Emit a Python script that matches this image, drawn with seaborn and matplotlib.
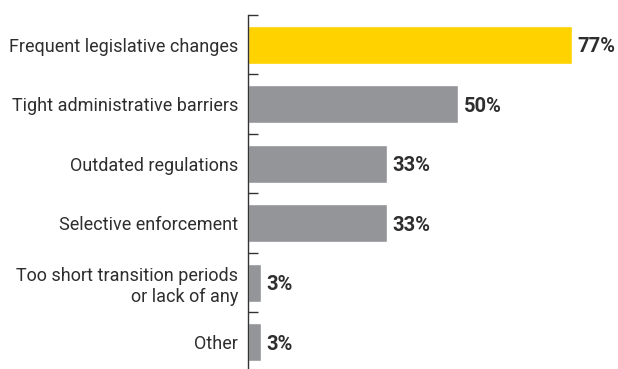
import matplotlib
matplotlib.use("Agg")
import matplotlib.pyplot as plt
import seaborn as sns
import pandas as pd

categories = ["Frequent legislative changes", "Tight administrative barriers",
              "Outdated regulations", "Selective enforcement",
              "Too short transition periods\nor lack of any", "Other"]
values = [77, 50, 33, 33, 3, 3]
value_labels = ["77%", "50%", "33%", "33%", "3%", "3%"]
colors = ["#FFD200", "#939598", "#939598", "#939598", "#939598", "#939598"]

sns.set_theme(style="white")
plt.rcParams['font.family'] = ['Roboto', 'DejaVu Sans']

df = pd.DataFrame({"cat": categories, "val": values})
fig = plt.figure(figsize=(6.18, 3.69), dpi=100)
ax = fig.add_axes([248/618, 0.0, 370/618, 1 - 15/369])
sns.barplot(data=df, y="cat", x="val", hue="cat", palette=colors, legend=False,
            width=0.64, ax=ax, saturation=1)
ax.set_xlim(0, 88)
ax.set_ylim(5.45, -0.5)
for s in ["top", "right", "bottom"]:
    ax.spines[s].set_visible(False)
ax.spines["left"].set_color("#333333")
ax.spines["left"].set_linewidth(1.0)
ax.set_xticks([])
ax.set_xlabel("")
ax.set_ylabel("")
ax.tick_params(axis="y", which="major", length=0, pad=7, labelsize=13, labelcolor="#2e2e2e")
ax.set_yticks([i - 0.5 for i in range(6)], minor=True)
ax.tick_params(axis="y", which="minor", direction="in", length=7, width=1, color="#333333", left=True)
for lbl in ax.get_yticklabels():
    lbl.set_horizontalalignment("right")
    lbl.set_multialignment("right")
for i, (v, t) in enumerate(zip(values, value_labels)):
    ax.text(v + 1.4, i + 0.03, t, va="center", ha="left", fontsize=14.5, fontweight="bold", color="#2e2e2e")
fig.savefig("out.png", dpi=100)
